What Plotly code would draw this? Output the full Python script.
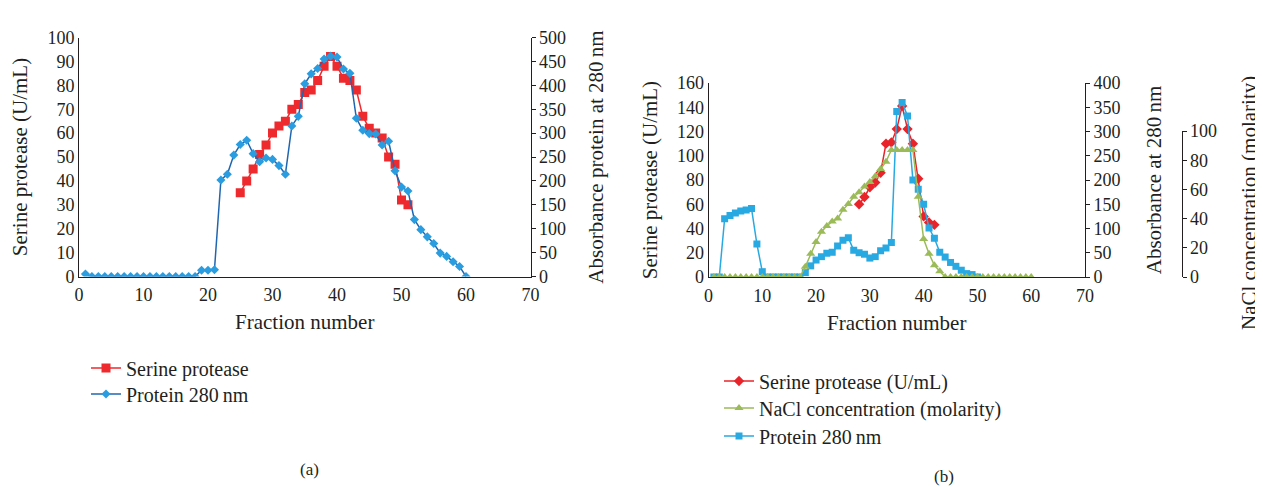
import plotly.graph_objects as go

# ---------------- data ----------------
fractions_a = list(range(1, 61))
protein_a = [5, 0, 0, 0, 0, 0, 0, 0, 0, 0, 0, 0, 0, 0, 0, 0, 0, 0,
             13, 13, 14,
             202, 214, 254, 276, 285, 257, 240, 248, 245, 232, 214, 315, 335, 403, 424, 435, 455, 461, 459,
             434, 425, 331, 306, 299, 298, 275, 283, 221, 187, 179, 119, 98, 83, 69, 49, 42, 31, 21, 0]
serine_fr_a = list(range(25, 52))
serine_a = [35, 40, 45, 51, 55, 60, 63, 65, 70, 72, 77, 78, 82, 88, 92, 88, 83, 82, 78, 67,
            62, 60, 58, 50, 47, 32, 30]

protein_fr_b = list(range(1, 51))
protein_b = [0, 0, 120, 127, 132, 136, 138, 141, 68, 11,
             0, 0, 0, 0, 0, 0, 0,
             9, 23, 35, 42, 49, 51, 64, 76, 81, 55, 50, 47, 39, 42, 54, 60, 71,
             341, 360, 332, 200, 181, 150, 101, 80, 51, 41, 30, 22, 14, 7, 5, 0]
serine_fr_b = list(range(28, 43))
serine_b = [60, 66, 74, 78, 86, 110, 111, 122, 141, 122, 110, 81, 50, 45, 43]
nacl_fr_b = list(range(1, 61))
nacl_b = [0] * 17 + [7, 16, 24, 31, 35, 38, 40, 46, 50, 55, 58, 62, 65, 69, 74, 79,
                     87, 87, 87, 87, 87, 55, 26, 16, 8, 4] + [0] * 17

# ---------------- layout helpers ----------------
# the page body has an 8px margin, so the figure is offset by 8px; positions below are page pixels
OFF = 8
W, H = 1263 - OFF, 487 - OFF
def px(x):
    return (x - OFF) / W
def py(y):
    return 1 - (y - OFF) / H

FONT = "Liberation Serif"
INK = "#231f20"
TICKF = dict(family=FONT, size=18, color=INK)
TITLEF = dict(family=FONT, size=21, color=INK)
LEGF = dict(family=FONT, size=20, color=INK)

fig = go.Figure()

# panel (a)
fig.add_trace(go.Scatter(x=serine_fr_a, y=serine_a, name="Serine protease", mode="lines+markers",
                         line=dict(color="#ee2a2e", width=1.5),
                         marker=dict(symbol="square", size=9, color="#ee2a2e"),
                         xaxis="x", yaxis="y", legend="legend", showlegend=True))
fig.add_trace(go.Scatter(x=fractions_a, y=protein_a, name="Protein 280\u2009nm", mode="lines+markers",
                         line=dict(color="#1f66b1", width=1.5),
                         marker=dict(symbol="diamond", size=7, color="#2a9de0"),
                         xaxis="x", yaxis="y2", legend="legend3", showlegend=True))

# panel (b)
fig.add_trace(go.Scatter(x=serine_fr_b, y=serine_b, name="Serine protease (U/mL)", mode="lines+markers",
                         line=dict(color="#e8242a", width=1.5),
                         marker=dict(symbol="diamond", size=8, color="#e8242a"),
                         xaxis="x2", yaxis="y3", legend="legend2", showlegend=True))
fig.add_trace(go.Scatter(x=nacl_fr_b, y=nacl_b, name="NaCl concentration (molarity)", mode="lines+markers",
                         line=dict(color="#9bbb59", width=1.5),
                         marker=dict(symbol="triangle-up", size=8, color="#9bbb59"),
                         xaxis="x2", yaxis="y5", legend="legend4", showlegend=True))
fig.add_trace(go.Scatter(x=protein_fr_b, y=protein_b, name="Protein 280\u2009nm", mode="lines+markers",
                         line=dict(color="#29a9e1", width=1.5),
                         marker=dict(symbol="square", size=7, color="#29a9e1"),
                         xaxis="x2", yaxis="y4", legend="legend5", showlegend=True))

common_x = dict(range=[0, 70], dtick=10, tick0=0, showline=True, linecolor=INK, linewidth=1,
                ticks="", showgrid=False, zeroline=False, tickfont=TICKF, automargin=False,
                ticklabelstandoff=2,
                title=dict(text="Fraction number", font=TITLEF, standoff=10))
common_y = dict(showline=True, linecolor=INK, linewidth=1, showgrid=False, zeroline=False,
                tickfont=TICKF, ticks="outside", ticklen=4, tickcolor=INK, automargin=False)

def leg(x, y):
    return dict(x=px(x), y=py(y), xanchor="left", yanchor="middle", font=LEGF,
                bgcolor="rgba(0,0,0,0)", itemwidth=30, borderwidth=0)

fig.update_layout(
    width=W, height=H, margin=dict(l=0, r=0, t=0, b=0, autoexpand=False),
    showlegend=True,
    paper_bgcolor="white", plot_bgcolor="rgba(0,0,0,0)",
    font=dict(family=FONT, color=INK),
    xaxis=dict(domain=[px(79), px(530.5)], anchor="y", **common_x),
    yaxis=dict(domain=[py(276.5), py(37.5)], range=[0, 100], dtick=10, anchor="x",
               title=dict(text="Serine protease (U/mL)", font=TITLEF, standoff=14),
               **{**common_y, "ticks": ""}),
    yaxis2=dict(overlaying="y", side="right", range=[0, 500], dtick=50, anchor="x",
                title=dict(text="Absorbance protein at 280\u2009nm", font=TITLEF, standoff=23),
                **common_y),
    xaxis2=dict(domain=[px(708.5), px(1085)], anchor="y3", **common_x),
    yaxis3=dict(domain=[py(277), py(83)], range=[0, 160], dtick=20, anchor="x2",
                title=dict(text="Serine protease (U/mL)", font=TITLEF, standoff=13),
                **{**common_y, "ticks": ""}),
    yaxis4=dict(overlaying="y3", side="right", range=[0, 400], dtick=50, anchor="x2",
                title=dict(text="Absorbance at 280\u2009nm", font=TITLEF, standoff=26),
                **common_y),
    yaxis5=dict(domain=[py(277), py(131)], range=[0, 100], dtick=20, anchor="free",
                position=px(1181.5), side="right", **common_y),
    legend=leg(86, 368),
    legend3=leg(86, 394),
    legend2=leg(719, 381),
    legend4=leg(719, 408),
    legend5=leg(719, 436),
    annotations=[
        dict(text="NaCl concentration (molarity)", x=px(1249), y=py(203), xref="paper", yref="paper",
             textangle=-90, showarrow=False, font=TITLEF, xanchor="center", yanchor="middle"),
        dict(text="(a)", x=px(309), y=py(469), xref="paper", yref="paper", showarrow=False,
             xanchor="center", yanchor="middle", font=dict(family=FONT, size=17, color=INK)),
        dict(text="(b)", x=px(944), y=py(476), xref="paper", yref="paper", showarrow=False,
             xanchor="center", yanchor="middle", font=dict(family=FONT, size=17, color=INK)),
    ],
)

fig.write_html("out.html")
